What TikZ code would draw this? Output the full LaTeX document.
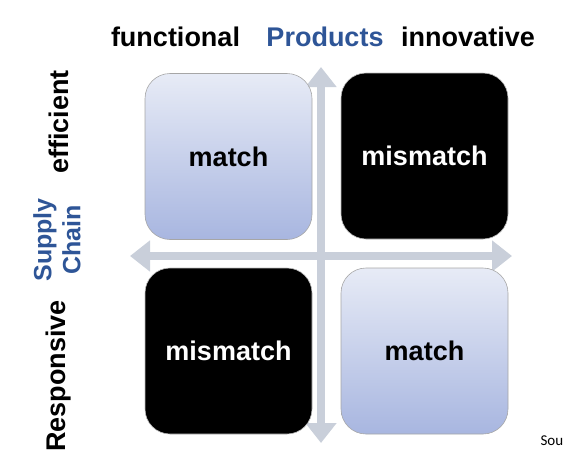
\documentclass[tikz,border=0pt]{standalone}
\usepackage{fontspec}
\setmainfont{Liberation Sans}
\newfontfamily\notefont{Carlito}
\usetikzlibrary{arrows.meta}
\definecolor{axisgray}{HTML}{C9CFDA}
\definecolor{titleblue}{HTML}{2E5597}
\definecolor{boxtop}{HTML}{E7EBF6}
\definecolor{boxbottom}{HTML}{A8B6E0}
\tikzset{
  matchbox/.style={minimum width=167pt, minimum height=166pt, rounded corners=25pt,
    top color=boxtop, bottom color=boxbottom, draw=gray!70, line width=0.6pt,
    font=\bfseries\fontsize{27}{30}\selectfont},
  mismatchbox/.style={minimum width=167pt, minimum height=166pt, rounded corners=25pt,
    fill=black, draw=gray!50, line width=0.6pt, text=white,
    font=\bfseries\fontsize{27}{30}\selectfont},
  axis/.style={line width=8pt, axisgray, {Triangle[width=30pt,length=20pt]}-{Triangle[width=30pt,length=20pt]}},
  heading/.style={font=\bfseries\fontsize{27}{30}\selectfont}
}
\begin{document}
\begin{tikzpicture}[x=1pt,y=-1pt]
  \useasboundingbox (0,0) rectangle (564,458);
  % axes
  \coordinate (top) at (321,67);
  \coordinate (bottom) at (321,443);
  \coordinate (left) at (130,256);
  \coordinate (right) at (512,256);
  \draw[axis] (bottom) -- (top);
  \draw[axis] (left) -- (right);
  % the four quadrants
  \node[matchbox] (effFunc) at (228.5,156.5) {match};
  \node[mismatchbox] (effInno) at (424.5,156) {mismatch};
  \node[mismatchbox] (respFunc) at (228.5,351) {mismatch};
  \node[matchbox] (respInno) at (424.5,351) {match};
  % headings
  \node[heading] (functional) at (175.5,37) {functional};
  \node[heading, text=titleblue] (products) at (325,37) {Products};
  \node[heading] (innovative) at (468,37) {innovative};
  \node[heading, rotate=90] (efficient) at (59,122) {efficient};
  \node[heading, rotate=90, text=titleblue, align=center, font=\bfseries\fontsize{25}{29}\selectfont]
    (supplychain) at (57,240) {Supply\\Chain};
  \node[heading, rotate=90] (responsive) at (59,376) {Responsive};
  \node[font=\notefont\fontsize{15}{18}\selectfont, anchor=west] (source) at (537,441) {Sou};
\end{tikzpicture}
\end{document}
